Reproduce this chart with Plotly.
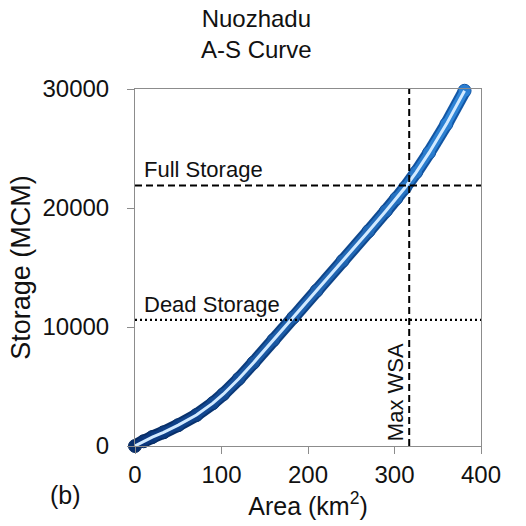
import plotly.graph_objects as go

# Area (km2) vs Storage (MCM)
area = [0, 10, 20, 33, 50, 71, 90, 102, 120, 137, 160, 183, 210, 240, 270, 290, 302, 312, 325, 340, 360, 381]
storage = [0, 400, 750, 1150, 1750, 2600, 3600, 4350, 5650, 7000, 8900, 10800, 13050, 15550, 18050, 19750, 20800, 21700, 23000, 24650, 27050, 29850]

full_storage = 21900
dead_storage = 10600
max_wsa = 317

x_ticks = [0, 100, 200, 300, 400]
y_ticks = [0, 10000, 20000, 30000]

FONT = "Liberation Sans, Arial, sans-serif"
TXT = "#111111"


def mix(c1, c2, t):
    a = [int(c1[i:i + 2], 16) for i in (1, 3, 5)]
    b = [int(c2[i:i + 2], 16) for i in (1, 3, 5)]
    return "#" + "".join(f"{round(a[k] + (b[k] - a[k]) * t):02x}" for k in range(3))


fig = go.Figure()
n = len(area)

# outline layer
for i in range(n - 1):
    t = i / (n - 2)
    fig.add_trace(go.Scatter(x=area[i:i + 2], y=storage[i:i + 2], mode="lines",
                             line=dict(color=mix("#06285e", "#1257a6", t), width=13),
                             hoverinfo="skip", showlegend=False))
# markers for scalloped edge
fig.add_trace(go.Scatter(x=area, y=storage, mode="markers",
                         marker=dict(size=13, color=[mix("#082f6c", "#2a7ed2", i / (n - 1)) for i in range(n)],
                                     line=dict(width=1, color=[mix("#06285e", "#1257a6", i / (n - 1)) for i in range(n)])),
                         cliponaxis=False, hoverinfo="skip", showlegend=False))
# fill layer
for i in range(n - 1):
    t = i / (n - 2)
    fig.add_trace(go.Scatter(x=area[i:i + 2], y=storage[i:i + 2], mode="lines",
                             line=dict(color=mix("#0a347a", "#2e84d6", t), width=9),
                             hoverinfo="skip", showlegend=False))
# light center line
fig.add_trace(go.Scatter(x=area, y=storage, mode="lines",
                         line=dict(color="#d2eaff", width=3),
                         hoverinfo="skip", showlegend=False))

# reference lines
fig.add_trace(go.Scatter(x=[0, 400], y=[full_storage, full_storage], mode="lines",
                         line=dict(color="black", width=2, dash="7px,4px"),
                         hoverinfo="skip", showlegend=False))
fig.add_trace(go.Scatter(x=[0, 400], y=[dead_storage, dead_storage], mode="lines",
                         line=dict(color="black", width=2.2, dash="2px,3px"),
                         hoverinfo="skip", showlegend=False))
fig.add_trace(go.Scatter(x=[max_wsa, max_wsa], y=[0, 30000], mode="lines",
                         line=dict(color="black", width=2, dash="7px,4px"),
                         hoverinfo="skip", showlegend=False))

fig.add_annotation(x=8, y=full_storage, text="Full Storage", showarrow=False,
                   xanchor="left", yanchor="bottom", yshift=1,
                   font=dict(family=FONT, size=22, color=TXT))
fig.add_annotation(x=8, y=dead_storage, text="Dead Storage", showarrow=False,
                   xanchor="left", yanchor="bottom", yshift=1,
                   font=dict(family=FONT, size=22, color=TXT))
fig.add_annotation(x=max_wsa, y=4500, text="Max WSA", showarrow=False, textangle=-90,
                   xanchor="right", yanchor="middle", xshift=1,
                   font=dict(family=FONT, size=22, color=TXT))
# panel label and title placed in paper coordinates (plot area: x 135..481, y 89..446 px)
fig.add_annotation(x=(65 - 135) / 346, y=(446 - 495) / 357, xref="paper", yref="paper",
                   xanchor="center", yanchor="middle", text="(b)", showarrow=False,
                   font=dict(family=FONT, size=25, color=TXT))
fig.add_annotation(x=(256 - 135) / 346, y=(446 - 3) / 357, xref="paper", yref="paper",
                   xanchor="center", yanchor="top", text="Nuozhadu<br>A-S Curve",
                   showarrow=False, align="center",
                   font=dict(family=FONT, size=24, color=TXT))

axis_common = dict(showgrid=False, zeroline=False, showline=True, mirror=True,
                   linecolor="#8c8c8c", linewidth=1, ticks="outside", ticklen=7,
                   tickcolor="#8c8c8c", tickfont=dict(family=FONT, size=24, color=TXT))

fig.update_layout(
    width=526, height=526,
    margin=dict(l=135, r=45, t=89, b=80),
    paper_bgcolor="white", plot_bgcolor="white",
    xaxis=dict(range=[0, 400], tickvals=x_ticks, ticktext=[str(v) for v in x_ticks],
               title=dict(text="Area (km<sup>2</sup>)", standoff=10,
                          font=dict(family=FONT, size=25, color=TXT)),
               **axis_common),
    yaxis=dict(range=[0, 30000], tickvals=y_ticks, ticktext=[str(v) for v in y_ticks],
               ticklabelstandoff=13,
               title=dict(text="Storage (MCM)", standoff=4,
                          font=dict(family=FONT, size=27, color=TXT)),
               **axis_common),
)

fig.write_html("out.html")
